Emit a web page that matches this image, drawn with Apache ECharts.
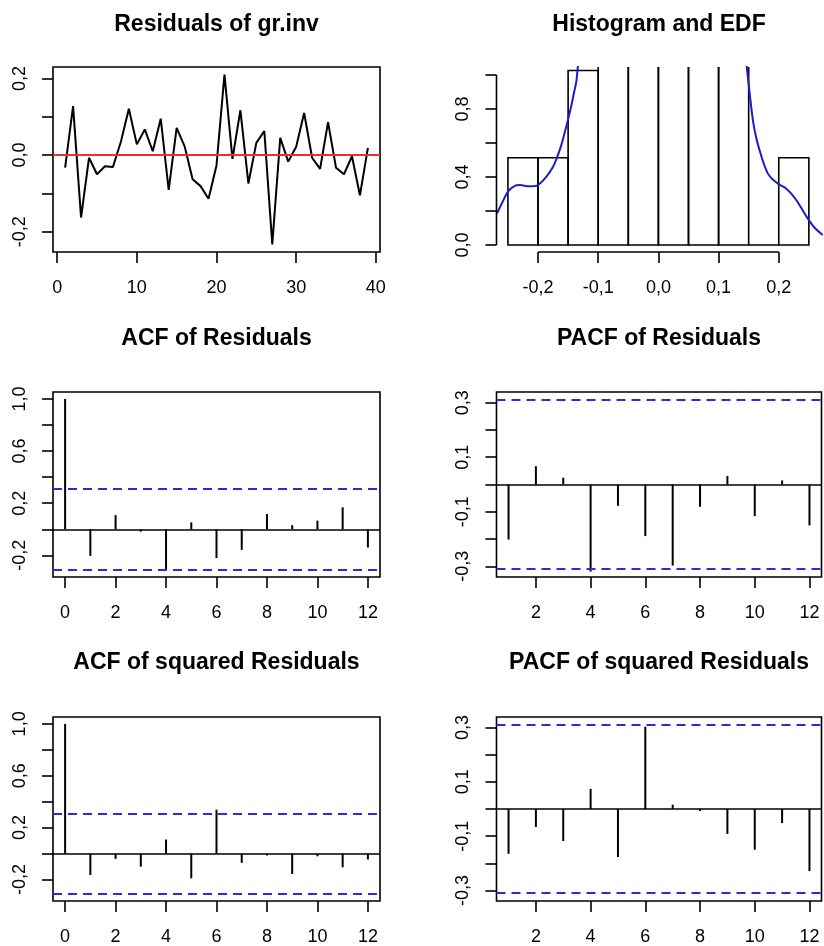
<!DOCTYPE html>
<html><head><meta charset="utf-8">
<script src="https://cdn.jsdelivr.net/npm/echarts@6/dist/echarts.min.js"></script>
<style>html,body{margin:0;padding:0;background:#fff}#c{width:824px;height:946px}</style>
</head><body><div id="c"></div>
<script>
// ---------- data ----------
const titles = ['Residuals of gr.inv','Histogram and EDF','ACF of Residuals','PACF of Residuals','ACF of squared Residuals','PACF of squared Residuals'];
const residIndex = [1,2,3,4,5,6,7,8,9,10,11,12,13,14,15,16,17,18,19,20,21,22,23,24,25,26,27,28,29,30,31,32,33,34,35,36,37,38,39];
const residValues = [-0.033,0.128,-0.163,-0.007,-0.050,-0.029,-0.031,0.035,0.121,0.028,0.067,0.010,0.095,-0.091,0.071,0.023,-0.063,-0.081,-0.114,-0.027,0.210,-0.010,0.117,-0.074,0.032,0.063,-0.233,0.045,-0.017,0.022,0.110,-0.007,-0.036,0.086,-0.033,-0.050,-0.003,-0.105,0.019];
const histBreaks = [-0.25,-0.2,-0.15,-0.1,-0.05,0,0.05,0.1,0.15,0.2,0.25];
const histDensity = [0.513,0.513,1.026,3.08,5.64,4.10,2.56,2.05,0,0.513];
const densX = [-0.268,-0.258,-0.250,-0.240,-0.230,-0.215,-0.200,-0.186,-0.175,-0.169,-0.162,-0.156,-0.150,-0.145,-0.140,-0.136,-0.12,-0.09,-0.05,0,0.05,0.10,0.13,0.151,0.157,0.162,0.168,0.175,0.182,0.190,0.198,0.205,0.212,0.220,0.229,0.238,0.248,0.260,0.273];
const densY = [0.186,0.26,0.314,0.345,0.353,0.345,0.353,0.402,0.46,0.51,0.58,0.657,0.74,0.814,0.90,0.97,1.6,2.8,4.0,4.6,4.0,2.6,1.6,0.912,0.735,0.64,0.559,0.48,0.42,0.385,0.363,0.348,0.333,0.305,0.265,0.215,0.157,0.100,0.059];
const acfLags = [0,1,2,3,4,5,6,7,8,9,10,11,12];
const acfResid = [1.0,-0.204,0.109,-0.018,-0.305,0.053,-0.221,-0.158,0.117,0.031,0.066,0.168,-0.140];
const pacfLags = [1,2,3,4,5,6,7,8,9,10,11,12];
const pacfResid = [-0.202,0.067,0.025,-0.319,-0.078,-0.189,-0.297,-0.082,0.031,-0.116,0.015,-0.150];
const acfSq = [1.0,-0.165,-0.041,-0.101,0.108,-0.191,0.338,-0.072,-0.015,-0.157,-0.021,-0.106,-0.046];
const pacfSq = [-0.165,-0.066,-0.118,0.074,-0.177,0.303,0.016,-0.007,-0.092,-0.150,-0.052,-0.229];
const confBound = 0.3138;
// tick positions and labels
const ticksX1 = [0,10,20,30,40];
const ticksY1 = [-0.2,-0.1,0,0.1,0.2];
const labelsY1 = [-0.2,0,0.2];
const ticksX2 = [-0.2,-0.1,0,0.1,0.2];
const ticksY2 = [0,0.2,0.4,0.6,0.8,1.0];
const labelsY2 = [0,0.4,0.8];
const ticksAcfX = [0,2,4,6,8,10,12];
const ticksPacfX = [2,4,6,8,10,12];
const ticksAcfY = [-0.2,0,0.2,0.4,0.6,0.8,1.0];
const labelsAcfY = [-0.2,0.2,0.6,1.0];
const ticksPacfY = [-0.3,-0.2,-0.1,0,0.1,0.2,0.3];
const labelsPacfY = [-0.3,-0.1,0.1,0.3];

// ---------- layout ----------
const FONT = 'Liberation Sans, Arial, Helvetica, sans-serif';
const LW = 1.6;
const grids = [
  {left:53, top:67, width:327, height:185, box:true},
  {left:496.5, top:67, width:325, height:185, box:false},
  {left:53, top:392, width:327, height:185, box:true},
  {left:496.5, top:392, width:325, height:185, box:true},
  {left:53, top:717, width:327, height:184, box:true},
  {left:496.5, top:717, width:325, height:184, box:true}
];
const xr = [[-0.52,40.52],[-0.269,0.271],[-0.48,12.48],[0.56,12.44],[-0.48,12.48],[0.56,12.44]];
const yr = [[-0.253,0.230],[-0.041,1.047],[-0.366,1.053],[-0.339,0.339],[-0.366,1.053],[-0.339,0.339]];
const xt = [ticksX1,ticksX2,ticksAcfX,ticksPacfX,ticksAcfX,ticksPacfX];
const xl = [ticksX1,ticksX2,ticksAcfX,ticksPacfX,ticksAcfX,ticksPacfX];
const yt = [ticksY1,ticksY2,ticksAcfY,ticksPacfY,ticksAcfY,ticksPacfY];
const yl = [labelsY1,labelsY2,labelsAcfY,labelsPacfY,labelsAcfY,labelsPacfY];
const dec = v => { const s = (Math.abs(v)<1e-9?0:v).toFixed(1); return s.replace('.', ','); };
const intf = v => String(Math.round(v));
const xfmt = [intf, dec, intf, intf, intf, intf];

const tickStyle = {show:true, inside:false, length:11, lineStyle:{color:'#000', width:LW}};
const labStyle = {color:'#000', fontSize:18, fontFamily:FONT};

const option = {
  animation:false,
  backgroundColor:'#fff',
  grid: grids.map(g => ({left:g.left, top:g.top, width:g.width, height:g.height, show:g.box, borderColor:'#000', borderWidth:LW, backgroundColor:'transparent', containLabel:false, outerBoundsMode:'none'})),
  xAxis: grids.map((g,i) => ({type:'value', gridIndex:i, min:xr[i][0], max:xr[i][1], position:'bottom',
    axisLine:{show:false, onZero:false}, splitLine:{show:false},
    axisTick:Object.assign({customValues:xt[i]}, tickStyle),
    axisLabel:Object.assign({customValues:xl[i], formatter:xfmt[i], margin:27}, labStyle)})),
  yAxis: grids.map((g,i) => ({type:'value', gridIndex:i, min:yr[i][0], max:yr[i][1], position:'left',
    axisLine:{show:false, onZero:false}, splitLine:{show:false},
    axisTick:Object.assign({customValues:yt[i]}, tickStyle),
    axisLabel:Object.assign({customValues:yl[i], formatter:dec, rotate:90, margin:24}, labStyle)})),
  graphic: titles.map((t,i) => ({type:'text', x:grids[i].left + grids[i].width/2, y:[25,25,339,339,663,663][i],
    style:{text:t, font:'bold 23px ' + FONT, fill:'#000', align:'center', verticalAlign:'middle'}})),
  series: []
};

const hline = (y, color, type, w) => ({yAxis:y, lineStyle:{color, type, width:w}});
const stemSeries = (gi, lags, vals) => ({
  type:'custom', xAxisIndex:gi, yAxisIndex:gi, clip:true,
  data: lags.map((l,k)=>[l, vals[k]]),
  renderItem:(params, api) => {
    const p0 = api.coord([api.value(0), 0]);
    const p1 = api.coord([api.value(0), api.value(1)]);
    return {type:'line', shape:{x1:p0[0], y1:p0[1], x2:p1[0], y2:p1[1]}, style:{stroke:'#000', lineWidth:2}};
  },
  markLine:{silent:true, symbol:['none','none'], label:{show:false}, animation:false,
    data:[hline(0,'#000','solid',LW), hline(confBound,'#2c2cd4',[9,6],2), hline(-confBound,'#2c2cd4',[9,6],2)]}
});

// panel 1
option.series.push({type:'line', xAxisIndex:0, yAxisIndex:0, data:residIndex.map((x,k)=>[x,residValues[k]]),
  symbol:'none', lineStyle:{color:'#000', width:2}, itemStyle:{color:'#000'},
  markLine:{silent:true, symbol:['none','none'], label:{show:false}, data:[hline(0,'#e8302f','solid',2.2)]}});
// panel 2 histogram
option.series.push({type:'custom', xAxisIndex:1, yAxisIndex:1, clip:true,
  data: histDensity.map((d,k)=>[histBreaks[k], histBreaks[k+1], d]),
  renderItem:(params, api) => {
    const a = api.coord([api.value(0), 0]);
    const b = api.coord([api.value(1), api.value(2)]);
    return {type:'rect', shape:{x:a[0], y:b[1], width:b[0]-a[0], height:a[1]-b[1]}, style:{fill:'none', stroke:'#000', lineWidth:LW}};
  }});
option.series.push({type:'line', xAxisIndex:1, yAxisIndex:1, data:densX.map((x,k)=>[x,densY[k]]), smooth:0.3,
  symbol:'none', clip:true, lineStyle:{color:'#1c1cc8', width:2}, itemStyle:{color:'#1c1cc8'}, z:3});
// panel 2 partial axis lines (R style)
option.series.push({type:'line', xAxisIndex:1, yAxisIndex:1, clip:false, symbol:'none', silent:true,
  data:[[xr[1][0], ticksY2[0]],[xr[1][0], ticksY2[ticksY2.length-1]]], lineStyle:{color:'#000', width:LW}, itemStyle:{color:'#000'}});
option.series.push({type:'line', xAxisIndex:1, yAxisIndex:1, clip:false, symbol:'none', silent:true,
  data:[[ticksX2[0], yr[1][0]],[ticksX2[ticksX2.length-1], yr[1][0]]], lineStyle:{color:'#000', width:LW}, itemStyle:{color:'#000'}});
// ACF / PACF panels
option.series.push(stemSeries(2, acfLags, acfResid));
option.series.push(stemSeries(3, pacfLags, pacfResid));
option.series.push(stemSeries(4, acfLags, acfSq));
option.series.push(stemSeries(5, pacfLags, pacfSq));

const chart = echarts.init(document.getElementById('c'), null, {renderer:'canvas'});
chart.setOption(option);
</script></body></html>
